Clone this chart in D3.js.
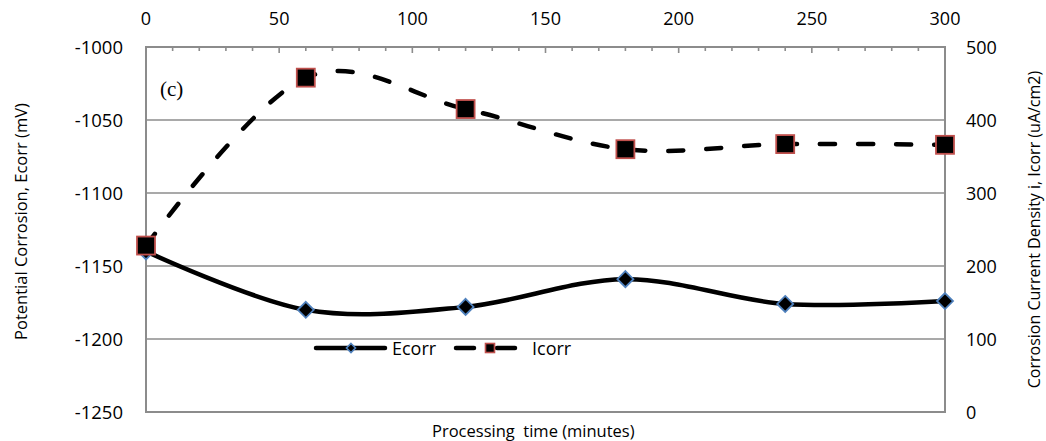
<!DOCTYPE html>
<html><head><meta charset="utf-8">
<script src="https://cdn.jsdelivr.net/npm/d3@7/dist/d3.min.js"></script>
<style>
html,body{margin:0;padding:0;background:#fff;}
svg{display:block;font-family:"Open Sans",sans-serif;}
</style></head>
<body><svg id="c" width="1046" height="441"></svg>
<script>
const times = [0, 60, 120, 180, 240, 300];
const ecorr = [-1140, -1180, -1178, -1159, -1176, -1174];
const icorr = [228, 458, 415, 360, 367, 366];
const xTicks = [0, 50, 100, 150, 200, 250, 300];
const leftTicks = [-1000, -1050, -1100, -1150, -1200, -1250];
const rightTicks = [0, 100, 200, 300, 400, 500];
const seriesNames = ["Ecorr", "Icorr"];

const svg = d3.select("#c");
const L = 146, R = 945, T = 47, B = 412;
const x = d3.scaleLinear().domain([0, 300]).range([L, R]);
const yL = d3.scaleLinear().domain([-1250, -1000]).range([B, T]);
const yR = d3.scaleLinear().domain([0, 500]).range([B, T]);
const gridC = "#8c8c8c";

// gridlines
svg.append("g").selectAll("line").data(leftTicks).join("line")
  .attr("x1", L).attr("x2", R).attr("y1", d => yL(d)).attr("y2", d => yL(d))
  .attr("stroke", gridC).attr("stroke-width", 1.6);

// border
svg.append("rect").attr("x", L).attr("y", T).attr("width", R - L).attr("height", B - T)
  .attr("fill", "none").attr("stroke", gridC).attr("stroke-width", 2);

// top axis ticks (inward)
const minor = d3.range(0, 301, 10);
svg.append("g").selectAll("line").data(minor).join("line")
  .attr("x1", d => x(d)).attr("x2", d => x(d))
  .attr("y1", T).attr("y2", d => T + (d % 50 === 0 ? 6 : 4))
  .attr("stroke", gridC).attr("stroke-width", 1.6);

svg.append("g").selectAll("text").data(xTicks).join("text")
  .attr("x", d => x(d)).attr("y", 25).attr("text-anchor", "middle")
  .attr("font-size", 18).attr("fill", "#000").text(d => d);

svg.append("g").selectAll("text").data(leftTicks).join("text")
  .attr("x", 123).attr("y", d => yL(d) + 6.5).attr("text-anchor", "end")
  .attr("font-size", 18.5).attr("fill", "#000").text(d => d);

svg.append("g").selectAll("text").data(rightTicks).join("text")
  .attr("x", 966).attr("y", d => yR(d) + 6.5).attr("text-anchor", "start")
  .attr("font-size", 18).attr("fill", "#000").text(d => d);

// axis titles
svg.append("text").attr("transform", `translate(27,${(T + B) / 2 - 8}) rotate(-90)`)
  .attr("text-anchor", "middle").attr("font-size", 16.5).text("Potential Corrosion, Ecorr (mV)");
svg.append("text").attr("transform", `translate(1040,${(T + B) / 2}) rotate(-90)`)
  .attr("text-anchor", "middle").attr("font-size", 16).text("Corrosion Current Density i, Icorr (uA/cm2)");
svg.append("text").attr("x", 432).attr("y", 437).attr("text-anchor", "start")
  .attr("font-size", 16.5).style("white-space", "pre")
  .text("Processing  time (minutes)");

svg.append("text").attr("x", 160).attr("y", 96).attr("font-family", "'Liberation Serif',serif")
  .attr("font-size", 21).text("(c)");

// lines
const curve = d3.curveCardinal.tension(0);
const eData = times.map((t, i) => [t, ecorr[i]]);
const iData = times.map((t, i) => [t, icorr[i]]);
svg.append("path").datum(eData)
  .attr("d", d3.line().x(d => x(d[0])).y(d => yL(d[1])).curve(curve))
  .attr("fill", "none").attr("stroke", "#000").attr("stroke-width", 4.5).attr("stroke-linecap", "round");
svg.append("path").datum(iData)
  .attr("d", d3.line().x(d => x(d[0])).y(d => yR(d[1])).curve(curve))
  .attr("fill", "none").attr("stroke", "#000").attr("stroke-width", 4.5)
  .attr("stroke-linecap", "round").attr("stroke-dasharray", "15,23");

// markers
const diamond = (cx, cy, s) => `M${cx},${cy - s}L${cx + s},${cy}L${cx},${cy + s}L${cx - s},${cy}Z`;
svg.append("g").selectAll("path").data(eData).join("path")
  .attr("d", d => diamond(x(d[0]), yL(d[1]), 8))
  .attr("fill", "#000").attr("stroke", "#4f81bd").attr("stroke-width", 1.8);
svg.append("g").selectAll("rect").data(iData).join("rect")
  .attr("x", d => x(d[0]) - 9).attr("y", d => yR(d[1]) - 9).attr("width", 18).attr("height", 18)
  .attr("fill", "#000").attr("stroke", "#c0504d").attr("stroke-width", 1.8);

// legend
const lg = svg.append("g");
const ly = 348;
lg.append("line").attr("x1", 316).attr("x2", 385).attr("y1", ly).attr("y2", ly)
  .attr("stroke", "#000").attr("stroke-width", 4.5).attr("stroke-linecap", "round");
lg.append("path").attr("d", diamond(351, ly, 4.5)).attr("fill", "#000").attr("stroke", "#4f81bd").attr("stroke-width", 1.6);
lg.append("text").attr("x", 392).attr("y", ly + 6.5).attr("font-size", 18).text(seriesNames[0]);
[[456, 474], [497, 515]].forEach(s => lg.append("line").attr("x1", s[0]).attr("x2", s[1]).attr("y1", ly).attr("y2", ly)
  .attr("stroke", "#000").attr("stroke-width", 4.5).attr("stroke-linecap", "round"));
lg.append("rect").attr("x", 485.5).attr("y", ly - 4.5).attr("width", 9).attr("height", 9)
  .attr("fill", "#000").attr("stroke", "#c0504d").attr("stroke-width", 1.6);
lg.append("text").attr("x", 532).attr("y", ly + 6.5).attr("font-size", 18).text(seriesNames[1]);
</script></body></html>
